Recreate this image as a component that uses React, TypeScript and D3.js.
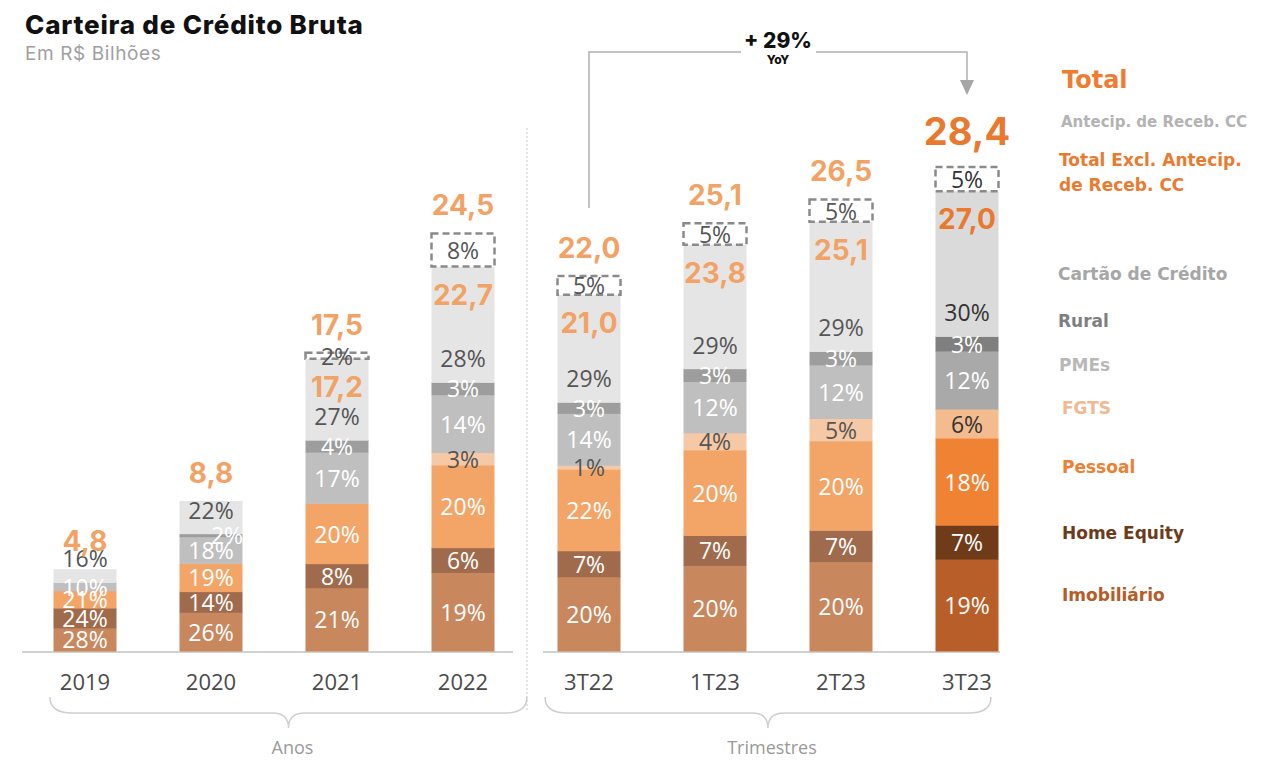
import React from 'react';
import * as d3 from 'd3';

// ---------- DATA ----------
const categories = ['2019', '2020', '2021', '2022', '3T22', '1T23', '2T23', '3T23'];
const totals = [4.8, 8.8, 17.5, 24.5, 22.0, 25.1, 26.5, 28.4];
const totalsExcl: (number | null)[] = [null, null, 17.2, 22.7, 21.0, 23.8, 25.1, 27.0];
const imobiliario = [28, 26, 21, 19, 20, 20, 20, 19];
const homeEquity = [24, 14, 8, 6, 7, 7, 7, 7];
const pessoal = [21, 19, 20, 20, 22, 20, 20, 18];
const fgts = [0, 0, 0, 3, 1, 4, 5, 6];
const pmes = [10, 18, 17, 14, 14, 12, 12, 12];
const rural = [0, 2, 4, 3, 3, 3, 3, 3];
const cartao = [16, 22, 27, 28, 29, 29, 29, 30];
const antecip = [0, 0, 2, 8, 5, 5, 5, 5];
const groupLabels = ['Anos', 'Trimestres'];
const yoyLabel = '+ 29%';

// ---------- STYLE ----------
type Series = { key: string; values: number[]; color: string; hi: string; text: string; hiText: string };
const series: Series[] = [
  { key: 'imob', values: imobiliario, color: '#c9875d', hi: '#b85e28', text: '#ffffff', hiText: '#ffffff' },
  { key: 'he', values: homeEquity, color: '#a06b4d', hi: '#6f3b19', text: '#ffffff', hiText: '#ffffff' },
  { key: 'pessoal', values: pessoal, color: '#f2a567', hi: '#ef8333', text: '#ffffff', hiText: '#ffffff' },
  { key: 'fgts', values: fgts, color: '#f5c9a6', hi: '#f4bb8e', text: '#555555', hiText: '#333333' },
  { key: 'pmes', values: pmes, color: '#bfbfbf', hi: '#a9a9a9', text: '#ffffff', hiText: '#ffffff' },
  { key: 'rural', values: rural, color: '#9d9d9d', hi: '#7f7f7f', text: '#ffffff', hiText: '#ffffff' },
  { key: 'cartao', values: cartao, color: '#e5e5e5', hi: '#dadada', text: '#555555', hiText: '#333333' },
  { key: 'antecip', values: antecip, color: 'none', hi: 'none', text: '#555555', hiText: '#333333' },
];
const labelNudgeX: Record<string, number> = { '2020|rural': 16 };

const legend = [
  { text: 'Total', y: 80, size: 24, color: '#ee7d31', x: 1062 },
  { text: 'Antecip. de Receb. CC', y: 122, size: 15, color: '#b3b3b3', x: 1061 },
  { text: 'Total Excl. Antecip.', y: 160, size: 17, color: '#e97b30', x: 1059 },
  { text: 'de Receb. CC', y: 185, size: 17, color: '#e97b30', x: 1059 },
  { text: 'Cartão de Crédito', y: 274, size: 17, color: '#a6a6a6', x: 1058 },
  { text: 'Rural', y: 321, size: 17, color: '#7f7f7f', x: 1058 },
  { text: 'PMEs', y: 365, size: 17, color: '#b8b8b8', x: 1059 },
  { text: 'FGTS', y: 408, size: 17, color: '#f2b890', x: 1062 },
  { text: 'Pessoal', y: 467, size: 17, color: '#ee8031', x: 1062 },
  { text: 'Home Equity', y: 533, size: 17, color: '#6e3b1a', x: 1062 },
  { text: 'Imobiliário', y: 595, size: 17, color: '#b65c27', x: 1062 },
];

const W = 1264;
const H = 768;
const BAR_W = 63;
const BASE = 651;
const PCT_FONT = '"Open Sans", "DejaVu Sans", sans-serif';
const BOLD_FONT = 'Inter, "Open Sans", sans-serif';
const LEGEND_FONT = '"DejaVu Sans", Inter, sans-serif';

const fmt = (v: number) => d3.format('.1f')(v).replace('.', ',');

export default function App() {
  const x = d3.scalePoint<string>().domain(categories).range([85, 967]);
  const y = d3.scaleLinear().domain([0, 28.4]).range([BASE, 167]);
  const last = categories.length - 1;

  // normalized table: each share scaled so the stack reaches the total
  const rows = categories.map((c, i) => {
    const sum = d3.sum(series, (s) => s.values[i]);
    const r: Record<string, number | string> = { cat: c };
    series.forEach((s) => (r[s.key] = (s.values[i] / sum) * totals[i]));
    return r;
  });
  const stacked = d3.stack<any>().keys(series.map((s) => s.key))(rows as any);

  const bars: React.ReactNode[] = [];
  const labels: React.ReactNode[] = [];

  stacked.forEach((layer, li) => {
    const s = series[li];
    layer.forEach((seg, i) => {
      const pct = s.values[i];
      if (!pct) return;
      const cat = categories[i];
      const cx = x(cat)!;
      const y0 = y(seg[0]);
      const y1 = y(seg[1]);
      const hi = i === last;
      if (s.key === 'antecip') {
        bars.push(
          <rect key={`b-${s.key}-${i}`} x={cx - BAR_W / 2} y={y1} width={BAR_W} height={y0 - y1}
            fill="#ffffff" stroke="#8a8a8a" strokeWidth={2.5} strokeDasharray="7 4" />
        );
      } else {
        bars.push(
          <rect key={`b-${s.key}-${i}`} x={cx - BAR_W / 2} y={y1} width={BAR_W} height={y0 - y1 + 0.5}
            fill={hi ? s.hi : s.color} />
        );
      }
      const ly = s.key === 'cartao' ? y0 - 24 : (y0 + y1) / 2;
      const dx = labelNudgeX[`${cat}|${s.key}`] || 0;
      labels.push(
        <text key={`l-${s.key}-${i}`} x={cx + dx} y={ly} textAnchor="middle" dominantBaseline="central"
          fontFamily={PCT_FONT} fontSize={23} fill={hi ? s.hiText : s.text}>
          {pct}%
        </text>
      );
    });
  });

  // totals and excl totals
  const cartaoLayer = stacked[series.findIndex((s) => s.key === 'cartao')];
  categories.forEach((c, i) => {
    const hi = i === last;
    labels.push(
      <text key={`t-${i}`} x={x(c)!} y={y(totals[i]) - (hi ? 36 : 28)} textAnchor="middle" dominantBaseline="central"
        fontFamily={BOLD_FONT} fontWeight={700} fontSize={hi ? 38 : 28} fill={hi ? '#e8792f' : '#f2a264'}>
        {fmt(totals[i])}
      </text>
    );
    const ex = totalsExcl[i];
    if (ex != null) {
      labels.push(
        <text key={`e-${i}`} x={x(c)!} y={y(cartaoLayer[i][1]) + 28} textAnchor="middle" dominantBaseline="central"
          fontFamily={BOLD_FONT} fontWeight={700} fontSize={28} fill={hi ? '#e8792f' : '#f2a264'}>
          {fmt(ex)}
        </text>
      );
    }
  });

  // group geometry
  const groups = [
    { label: groupLabels[0], x0: x(categories[0])! - 35, x1: 527 },
    { label: groupLabels[1], x0: 545, x1: x(categories[last])! + 24 },
  ];
  const brace = (x0: number, x1: number) => {
    const cx = (x0 + x1) / 2;
    const t = 697, m = 713, b = 728;
    return `M${x0},${t} Q${x0},${m} ${x0 + 22},${m} L${cx - 16},${m} Q${cx},${m} ${cx},${b} Q${cx},${m} ${cx + 16},${m} L${x1 - 22},${m} Q${x1},${m} ${x1},${t}`;
  };

  // YoY annotation
  const ax0 = x('3T22')!;
  const ax1 = x('3T23')!;
  const amid = (ax0 + ax1) / 2;
  const aTop = 52;

  return (
    <svg width={W} height={H} style={{ position: 'absolute', left: 0, top: 0, background: '#ffffff' }}>
      <rect x={0} y={0} width={W} height={H} fill="#ffffff" />
      <text x={25} y={34} fontFamily={BOLD_FONT} fontWeight={800} fontSize={26} letterSpacing={0.8} fill="#111111">
        Carteira de Crédito Bruta
      </text>
      <text x={25} y={60} fontFamily={BOLD_FONT} fontSize={19} letterSpacing={0.6} fill="#a0a0a0">
        Em R$ Bilhões
      </text>

      {/* separator */}
      <line x1={527} x2={527} y1={128} y2={712} stroke="#d6d6d6" strokeWidth={1.2} strokeDasharray="2 2" />

      {/* baselines */}
      <line x1={22} x2={513} y1={BASE + 1} y2={BASE + 1} stroke="#d2d2d2" strokeWidth={2} />
      <line x1={543} x2={1000} y1={BASE + 1} y2={BASE + 1} stroke="#d2d2d2" strokeWidth={2} />

      {bars}
      {labels}

      {/* category labels */}
      {categories.map((c) => (
        <text key={`c-${c}`} x={x(c)!} y={681} textAnchor="middle" dominantBaseline="central"
          fontFamily={PCT_FONT} fontSize={22} fill="#4a4a4a">
          {c}
        </text>
      ))}

      {/* braces */}
      {groups.map((g) => (
        <g key={g.label}>
          <path d={brace(g.x0, g.x1)} fill="none" stroke="#cfcfcf" strokeWidth={1.5} />
          <text x={(g.x0 + g.x1) / 2 + 4} y={747} textAnchor="middle" dominantBaseline="central"
            fontFamily={PCT_FONT} fontSize={18} fill="#9a9a9a">
            {g.label}
          </text>
        </g>
      ))}

      {/* YoY arrow */}
      <path d={`M${ax0},${y(totals[4]) - 68} L${ax0},${aTop} L${amid - 37},${aTop}`} fill="none" stroke="#b0b0b0" strokeWidth={1.5} />
      <path d={`M${amid + 38},${aTop} L${ax1},${aTop} L${ax1},${81}`} fill="none" stroke="#b0b0b0" strokeWidth={1.5} />
      <path d={`M${ax1 - 7},${80} L${ax1 + 7},${80} L${ax1},${95} Z`} fill="#a6a6a6" />
      <text x={amid} y={40} textAnchor="middle" dominantBaseline="central" fontFamily={BOLD_FONT}
        fontWeight={800} fontSize={21} fill="#111111">
        {yoyLabel}
      </text>
      <text x={amid} y={59} textAnchor="middle" dominantBaseline="central" fontFamily={BOLD_FONT}
        fontWeight={800} fontSize={12} fill="#111111">
        YoY
      </text>

      {/* legend */}
      {legend.map((l) => (
        <text key={l.text} x={l.x} y={l.y} dominantBaseline="central" fontFamily={LEGEND_FONT}
          fontWeight={700} fontSize={l.size} fill={l.color}>
          {l.text}
        </text>
      ))}
    </svg>
  );
}
